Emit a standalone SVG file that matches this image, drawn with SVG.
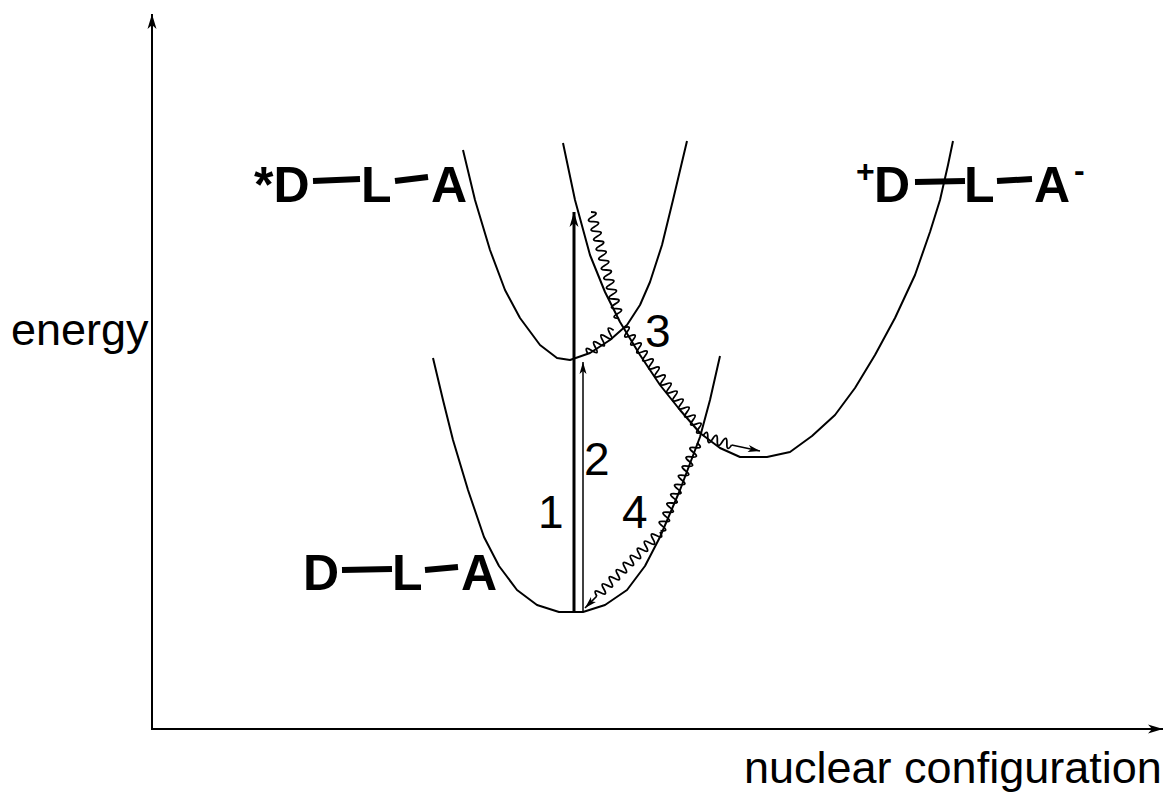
<svg xmlns="http://www.w3.org/2000/svg" width="1166" height="796" viewBox="0 0 1166 796">
<style>
.curve{fill:none;stroke:#000;stroke-width:2;stroke-linejoin:round}
.wave{fill:none;stroke:#000;stroke-width:1.8}
.bond{stroke:#000;stroke-width:6}
.lbl{font-family:"Liberation Sans",Arial,sans-serif;font-size:45px;fill:#000}
.num{font-family:"Liberation Sans",Arial,sans-serif;font-size:46px;fill:#000}
.st{font-family:"Liberation Sans",Arial,sans-serif;font-size:50px;font-weight:bold;fill:#000}
.sup{font-family:"Liberation Sans",Arial,sans-serif;font-size:32px;font-weight:bold;fill:#000}
</style>
<defs>
<marker id="ah" markerUnits="userSpaceOnUse" markerWidth="20" markerHeight="12" refX="0" refY="0" viewBox="-16 -6 17 12" orient="auto">
<path d="M0,0 L-15,-4.5 L-11,0 L-15,4.5 Z" fill="#000"/>
</marker>
<marker id="ahs" markerUnits="userSpaceOnUse" markerWidth="16" markerHeight="10" refX="0" refY="0" viewBox="-13 -5 14 10" orient="auto">
<path d="M0,0 L-12,-3.5 L-9,0 L-12,3.5 Z" fill="#000"/>
</marker>
</defs>
<rect width="1166" height="796" fill="#fff"/>

<g id="axes">
<line x1="152" y1="730" x2="152" y2="14" stroke="#000" stroke-width="2" marker-end="url(#ah)"/>
<line x1="151" y1="729" x2="1163" y2="729" stroke="#000" stroke-width="2" marker-end="url(#ah)"/>
</g>

<g id="ground-state">
<polyline class="curve" points="433,358 443,400 453,440 468,490 484,537 499,566 517,590 537,605 559,612 583,612 605,605 627,590 645,566 660,537 680,490 700,437 710,400 720,356"/>
</g>

<g id="excited-state">
<polyline class="curve" points="463,150 475,200 490,250 505,290 520,318 540,345 557,358 570,360 590,353 610,340 627,325 640,305 650,282 662,245 673,200 687,141"/>
</g>

<g id="ct-state">
<polyline class="curve" points="563,143 575,200 590,255 605,292 620,322 640,355 660,385 680,410 700,433 720,448 740,457 767,457 790,452 812,436 835,415 855,388 875,355 895,318 915,275 930,232 940,200 948,165 953,141"/>
</g>

<g id="connectors">
<line x1="574" y1="612" x2="574" y2="212" stroke="#000" stroke-width="3" marker-end="url(#ah)"/>
<line x1="583" y1="612" x2="583" y2="362" stroke="#000" stroke-width="1.5" marker-end="url(#ahs)"/>
<g transform="translate(591,212) rotate(75.2)"><path class="wave" d="M0,0 q2.5,-9 5,0 t5,0 t5,0 t5,0 t5,0 t5,0 t5,0 t5,0 t5,0 t5,0 t5,0 t5,0 t5,0 t5,0 t5,0 t5,0 t5,0 t5,0 t5,0 t5,0 t5,0 t5,0"/></g>
<g transform="translate(588,354) rotate(-42.9)"><path class="wave" d="M0,0 q2.5,-10 5,0 t5,0 t5,0 t5,0 t5,0 t5,0 t5,0"/></g>
<g transform="translate(624,328) rotate(53.2)"><path class="wave" d="M0,0 q2.5,-9 5,0 t5,0 t5,0 t5,0 t5,0 t5,0 t5,0 t5,0 t5,0 t5,0 t5,0 t5,0 t5,0 t5,0 t5,0 t5,0 t5,0 t5,0 t5,0 t5,0 t5,0 t5,0 t5,0 t5,0 t5,0 t5,0"/></g>
<g transform="translate(703,436) rotate(17.2)"><path class="wave" d="M0,0 q2.5,-9 5,0 t5,0 t5,0 t5,0 t5,0 t5,0"/></g>
<line x1="731.7" y1="444.9" x2="760" y2="451" stroke="#000" stroke-width="1.5" marker-end="url(#ahs)"/>
<g transform="translate(697,443) rotate(112.6)"><path class="wave" d="M0,0 q2.5,-9 5,0 t5,0 t5,0 t5,0 t5,0 t5,0 t5,0 t5,0 t5,0 t5,0 t5,0 t5,0 t5,0 t5,0 t5,0 t5,0 t5,0 t5,0 t5,0"/></g>
<g transform="translate(660,532) rotate(134.6)"><path class="wave" d="M0,0 q2.5,-9 5,0 t5,0 t5,0 t5,0 t5,0 t5,0 t5,0 t5,0 t5,0 t5,0 t5,0 t5,0 t5,0 t5,0 t5,0 t5,0 t5,0 t5,0"/></g>
<line x1="596.8" y1="596.1" x2="585" y2="608" stroke="#000" stroke-width="1.5" marker-end="url(#ahs)"/>
</g>

<g id="label-excited">
<text class="st" x="254" y="202">*D</text>
<line class="bond" x1="313" y1="181" x2="360" y2="179"/>
<text class="st" x="361" y="202">L</text>
<line class="bond" x1="395" y1="181" x2="428" y2="177"/>
<text class="st" x="431" y="202">A</text>
</g>

<g id="label-ct">
<text class="sup" x="856" y="182">+</text>
<text class="st" x="874" y="202">D</text>
<line class="bond" x1="915" y1="182" x2="965" y2="181"/>
<text class="st" x="964" y="202">L</text>
<line class="bond" x1="997" y1="181" x2="1032" y2="179"/>
<text class="st" x="1034" y="202">A</text>
<text class="sup" x="1074" y="181">-</text>
</g>

<g id="label-ground">
<text class="st" x="303" y="590">D</text>
<line class="bond" x1="342" y1="570" x2="392" y2="569"/>
<text class="st" x="392" y="590">L</text>
<line class="bond" x1="425" y1="570" x2="458" y2="567"/>
<text class="st" x="461" y="590">A</text>
</g>

<g id="numbers">
<text class="num" x="538" y="528">1</text>
<text class="num" x="584" y="475">2</text>
<text class="num" x="645" y="347">3</text>
<text class="num" x="622" y="528">4</text>
</g>

<g id="axis-labels">
<text class="lbl" x="11" y="345">energy</text>
<text class="lbl" x="744" y="783">nuclear configuration</text>
</g>
</svg>
